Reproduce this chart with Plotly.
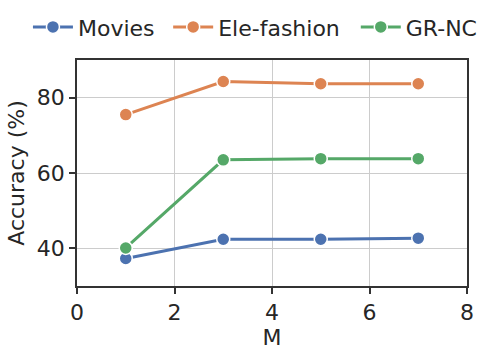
import plotly.graph_objects as go

m_values = [1, 3, 5, 7]
movies = [37.3, 42.4, 42.4, 42.7]
ele_fashion = [75.5, 84.3, 83.7, 83.7]
gr_nc = [40.1, 63.5, 63.8, 63.8]

series = [
    ("Movies", movies, "#4C72B0"),
    ("Ele-fashion", ele_fashion, "#DD8452"),
    ("GR-NC", gr_nc, "#55A868"),
]

# one legend per series so the entries can sit on a single row like the original
legend_ids = ["legend", "legend2", "legend3"]
legend_x = [0.056, 0.337, 0.713]

fig = go.Figure()
for (name, values, color), lid in zip(series, legend_ids):
    fig.add_trace(go.Scatter(
        x=m_values, y=values, name=name, mode="lines+markers",
        line=dict(color=color, width=3),
        marker=dict(size=13, color=color, line=dict(color="white", width=1.5)),
        legend=lid,
    ))

axis_common = dict(
    showline=True, linecolor="#333333", linewidth=1.5, mirror=True,
    ticks="outside", ticklen=6, tickwidth=1.5, tickcolor="#333333",
    showgrid=True, gridcolor="#cccccc", gridwidth=1, zeroline=False,
    tickfont=dict(size=22, color="#262626"), automargin=False,
)

legends = {}
for lid, lx in zip(legend_ids, legend_x):
    legends[lid] = dict(orientation="h", xref="container", yref="container",
                        x=lx, xanchor="left", y=0.924, yanchor="middle",
                        font=dict(size=22), itemwidth=40, borderwidth=0,
                        bgcolor="rgba(0,0,0,0)")

fig.update_layout(
    width=499, height=357,
    margin=dict(l=77, r=32, t=60, b=71, autoexpand=False),
    paper_bgcolor="white", plot_bgcolor="white",
    font=dict(family="DejaVu Sans", color="#262626"),
    showlegend=True,
    xaxis=dict(range=[0, 8], dtick=2, title=dict(text="M", font=dict(size=22), standoff=2),
               **axis_common),
    yaxis=dict(range=[30, 90], tickvals=[40, 60, 80],
               title=dict(text="Accuracy (%)", font=dict(size=22), standoff=6),
               **axis_common),
    **legends,
)

# the page body has a default 8px margin; drop it so the chart sits at (0, 0)
fig.write_html("out.html", config={"displayModeBar": False},
               post_script="document.body.style.margin='0';")
